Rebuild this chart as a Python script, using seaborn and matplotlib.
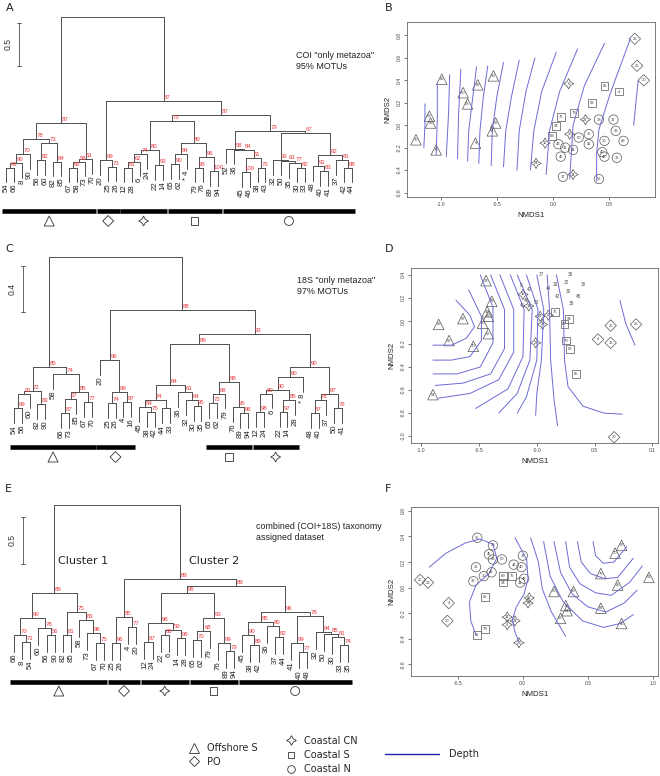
import numpy as np
import pandas as pd
import seaborn as sns
import matplotlib
matplotlib.use("Agg")
import matplotlib.pyplot as plt
from matplotlib.lines import Line2D

W, H = 660, 776

# ---------------- dendrogram data: (height, bootstrap, left, right) ----------------
# panel A: COI "only metazoa", 95% MOTUs
coi_off = (0.64, 87,
           (0.45, 78, (0.28, 70, (0.17, 90, (0.12, 91, "54", "66"), "8"), "90"),
            (0.41, 73, (0.21, 82, "56", "60"), (0.19, 84, "82", "85"))),
           (0.22, 63, (0.19, 58, (0.12, 66, "67", "58"), "73"), "70"))
coi_po = (0.21, 99, "20", (0.13, 73, "25", "26"))
coi_cn = (0.33, 80, (0.28, 74, (0.19, 62, (0.12, 81, "12", "28"), "6"), "24"),
          (0.15, 93, "22", "14"))
coi_cs = (0.41, 80, (0.28, 84, (0.16, 90, "65", "62"), "* 4"),
          (0.24, 96, (0.12, 95, "79", "76"), (0.08, 100, "89", "94")))
coi_n1 = (0.34, 58, "52", (0.33, 84, "36", (0.23, 61, (0.07, 100, "45", "46"),
                                             (0.12, 73, "38", "43"))))
coi_n2 = (0.52, 67,
          (0.21, 93, "32", (0.20, 63, "50", (0.17, 77, "35", (0.12, 82, "30", "33")))),
          (0.27, 82, (0.14, 91, "48", (0.08, 83, "40", "41")),
           (0.21, 81, "37", (0.12, 88, "42", "44"))))
coi_tree = (1.87, "", coi_off,
            (0.90, 87, coi_po, (0.73, 87, (0.66, 75, coi_cn, coi_cs), (0.55, 79, coi_n1, coi_n2))))
coi_groups = [("54", "70", "Offshore S"), ("20", "26", "PO"), ("12", "14", "Coastal CN"),
              ("65", "94", "Coastal S"), ("52", "44", "Coastal N")]

# panel C: 18S "only metazoa", 97% MOTUs
s18_off = (0.46, 85,
           (0.25, 72, (0.23, 81, (0.10, 99, "54", "56"), "60"), (0.14, 83, "82", "90")),
           (0.40, 74, "58", (0.24, 85, (0.18, 67, (0.06, 87, "66", "73"), "85"),
                             (0.16, 77, "67", "70"))))
s18_po = (0.52, 96, "20", (0.24, 99, (0.15, 74, "25", "26"), (0.16, 87, "4", "16")))
s18_mid = (0.30, 84,
           (0.17, 74, (0.11, 84, "45", (0.07, 75, "38", "42")), (0.10, "", "44", "33")),
           (0.24, 63, "36", (0.17, 64, "32", (0.12, 95, "30", "35"))))
s18_cs = (0.33, 88, (0.23, 68, (0.15, 72, "65", "62"), "79"),
          (0.11, 95, "76", (0.06, 96, "89", "94")))
s18_cn = (0.37, 90, (0.26, 90, (0.23, 80, (0.07, 98, "12", "24"), "6"),
                     (0.17, 85, (0.07, 97, "22", "14"), "28")), "* 8")
s18_last = (0.23, 87, (0.17, 78, (0.06, 87, "48", "40"), "37"), (0.10, 76, "50", "41"))
s18_tree = (1.42, "", s18_off,
            (0.96, 88, s18_po, (0.75, 93, (0.66, 89, s18_mid, s18_cs), (0.46, 90, s18_cn, s18_last))))
s18_groups = [("54", "70", "Offshore S"), ("20", "16", "PO"),
              ("65", "94", "Coastal S"), ("12", "28", "Coastal CN")]

# panel E: combined (COI+18S) taxonomy assigned dataset
cmb_c1 = (0.71, 89,
          (0.45, 90, (0.27, 70, "66", (0.19, 71, "8", "54")), (0.34, 78, "60", (0.27, 56, "56", "90"))),
          (0.51, 75, (0.27, 81, "82", "85"), (0.43, 83, "58", (0.29, 96, "73", (0.18, 75, "67", "70")))))
cmb_po = (0.46, 85, (0.18, 96, "25", "26"), (0.35, 77, "4", "20"))
cmb_cn = (0.39, 96, (0.19, 87, "12", "24"), (0.32, 59, (0.27, 80, "22", "6"), (0.23, 99, "14", "28")))
cmb_cs = (0.45, 93, (0.31, 68, (0.21, 70, "65", "62"), "79"), (0.18, 99, "76", (0.10, 79, "89", "94")))
cmb_n = (0.51, 96,
         (0.40, 85, (0.27, 90, "45", (0.16, 89, "38", "42")), (0.36, 80, "36", (0.24, 82, "37", "44"))),
         (0.47, 78, (0.18, 99, "41", (0.09, 77, "40", "48")),
          (0.30, 94, "32", (0.28, 85, "50", (0.24, 81, "30", (0.16, 74, "33", "35"))))))
cmb_tree = (1.65, "", cmb_c1,
            (0.86, 89, cmb_po, (0.79, 89, (0.71, 95, cmb_cn, cmb_cs), cmb_n)))
cmb_groups = [("66", "70", "Offshore S"), ("25", "20", "PO"), ("12", "28", "Coastal CN"),
              ("65", "94", "Coastal S"), ("45", "35", "Coastal N")]

# ---------------- NMDS data ----------------
b_lab = ["70", "56", "66", "73", "85", "60", "82", "58", "8", "90", "67", "54",
         "25", "26", "20",
         "12", "28", "14", "6", "22", "24",
         "76", "94", "89", "79", "62", "65", "4",
         "38", "32", "33", "35", "50", "30", "43", "48", "41", "44", "42", "45", "40", "46", "36", "37", "52"]
b_x = [-1.22, -1.10, -1.09, -1.04, -0.99, -0.80, -0.67, -0.76, -0.69, -0.53, -0.51, -0.54,
       0.73, 0.75, 0.81,
       -0.07, 0.15, 0.18, 0.14, 0.29, -0.15,
       0.07, 0.03, -0.01, 0.19, 0.35, 0.46, 0.59,
       0.41, 0.54, 0.56, 0.32, 0.23, 0.46, 0.63, 0.05, 0.11, 0.18, 0.32, 0.07, 0.44, 0.46, 0.57, 0.09, 0.41]
b_y = [-0.13, 0.08, 0.02, -0.22, 0.41, 0.29, 0.36, 0.19, -0.16, 0.44, 0.02, -0.05,
       0.77, 0.53, 0.40,
       -0.16, -0.08, -0.44, 0.37, 0.05, -0.34,
       0.07, -0.01, -0.10, 0.11, 0.20, 0.35, 0.30,
       0.05, 0.05, -0.05, -0.08, -0.11, -0.14, -0.14, -0.17, -0.20, -0.22, -0.17, -0.28, -0.24, -0.28, -0.29, -0.46, -0.48]
b_grp = ["Offshore S"] * 12 + ["PO"] * 3 + ["Coastal CN"] * 6 + ["Coastal S"] * 7 + ["Coastal N"] * 17
b_depth = [
    [(-1.14, 0.19), (-1.14, 0.0), (-1.15, -0.20)],
    [(-1.03, 0.37), (-1.03, 0.05), (-1.04, -0.26)],
    [(-0.92, 0.45), (-0.93, 0.10), (-0.95, -0.28)],
    [(-0.82, 0.50), (-0.84, 0.10), (-0.85, -0.30)],
    [(-0.68, 0.52), (-0.72, 0.20), (-0.75, -0.05), (-0.76, -0.32)],
    [(-0.58, 0.53), (-0.62, 0.25), (-0.65, -0.05), (-0.66, -0.34)],
    [(-0.44, 0.56), (-0.50, 0.25), (-0.54, -0.05), (-0.55, -0.36)],
    [(-0.30, 0.58), (-0.37, 0.25), (-0.42, -0.05), (-0.44, -0.37)],
    [(-0.16, 0.60), (-0.24, 0.30), (-0.30, -0.05), (-0.32, -0.40)],
    [(0.03, 0.65), (-0.10, 0.30), (-0.17, -0.05), (-0.20, -0.40)],
    [(0.22, 0.68), (0.06, 0.30), (-0.03, -0.05), (-0.06, -0.44)],
    [(0.46, 0.73), (0.28, 0.35), (0.18, 0.0), (0.15, -0.48)],
    [(0.69, 0.77), (0.51, 0.28), (0.41, -0.04), (0.39, -0.25), (0.39, -0.50)],
    [(0.76, 0.40), (0.74, 0.20), (0.72, 0.0)],
]

d_lab = ["85", "67", "66", "70", "54", "58", "73", "90", "82", "60", "56",
         "4", "26", "16", "25", "20",
         "89", "94", "76", "79", "62", "65",
         "12", "14", "28", "24", "6", "22"]
d_x = [-0.85, -0.64, -0.76, -0.55, -0.90, -0.44, -0.39, -0.43, -0.42, -0.47, -0.42,
       0.53, 0.64, 0.64, 0.86, 0.67,
       0.24, 0.28, 0.16, 0.25, 0.29, 0.34,
       -0.12, -0.07, 0.05, 0.03, 0.10, -0.01]
d_y = [-0.03, 0.02, -0.17, -0.22, -0.64, 0.35, 0.17, 0.08, 0.04, -0.02, -0.11,
       -0.16, -0.04, -0.19, -0.03, -1.01,
       -0.03, 0.02, 0.08, -0.17, -0.24, -0.46,
       0.23, 0.13, -0.03, 0.04, 0.05, -0.19]
d_grp = ["Offshore S"] * 11 + ["PO"] * 5 + ["Coastal S"] * 6 + ["Coastal CN"] * 6
# samples without a group symbol in panel D
dt_lab = ["37", "35", "33", "32", "36", "8", "40", "44", "30", "42", "45", "38", "48", "41", "50"]
dt_x = [0.04, 0.29, 0.16, 0.26, 0.40, -0.14, -0.06, 0.10, 0.27, 0.18, 0.36, 0.30, -0.09, -0.12, 0.0]
dt_y = [0.40, 0.40, 0.32, 0.33, 0.32, 0.31, 0.27, 0.28, 0.26, 0.21, 0.21, 0.15, 0.18, 0.13, 0.16]
d_depth = [
    [(-0.70, 0.18), (-0.58, 0.05), (-0.54, -0.05), (-0.61, -0.15), (-0.74, -0.21), (-0.90, -0.21)],
    [(-0.59, 0.27), (-0.48, 0.04), (-0.48, -0.17), (-0.58, -0.31), (-0.74, -0.34), (-0.90, -0.34)],
    [(-0.49, 0.40), (-0.38, 0.12), (-0.38, -0.19), (-0.49, -0.40), (-0.69, -0.46), (-0.90, -0.46)],
    [(-0.40, 0.40), (-0.28, 0.10), (-0.28, -0.24), (-0.40, -0.46), (-0.64, -0.54), (-0.88, -0.56)],
    [(-0.32, 0.40), (-0.20, 0.10), (-0.20, -0.27), (-0.33, -0.51), (-0.58, -0.63), (-0.85, -0.67)],
    [(-0.23, 0.40), (-0.11, 0.10), (-0.12, -0.31), (-0.25, -0.59), (-0.53, -0.76)],
    [(-0.17, 0.40), (-0.04, 0.10), (-0.06, -0.34), (-0.17, -0.63), (-0.33, -0.80)],
    [(-0.09, 0.40), (0.01, 0.10), (0.0, -0.34), (-0.09, -0.66), (-0.17, -0.80)],
    [(0.0, 0.40), (0.06, 0.10), (0.04, -0.34), (0.0, -0.63), (-0.01, -0.82)],
    [(0.09, 0.40), (0.11, 0.10), (0.12, -0.34), (0.15, -0.69), (0.18, -0.91)],
    [(0.17, 0.40), (0.23, 0.10), (0.24, -0.34), (0.27, -0.57), (0.40, -0.74), (0.58, -0.80), (0.74, -0.81)],
    [(0.72, 0.18), (0.77, -0.02), (0.85, -0.21)],
]

f_lab = ["67", "70", "73", "85", "58", "60", "90", "8", "54", "82", "56", "66",
         "25", "26", "4", "20",
         "12", "22", "14", "6", "24", "28",
         "89", "76", "94", "62", "79", "65",
         "35", "38", "45", "33", "50", "37", "44", "40", "36", "42", "30", "32", "41", "48"]
f_x = [0.76, 0.71, 0.60, 0.73, 0.97, 0.24, 0.39, 0.33, 0.34, 0.60, 0.29, 0.76,
       -0.79, -0.73, -0.57, -0.58,
       0.05, 0.04, -0.12, -0.12, -0.06, -0.03,
       -0.15, -0.08, -0.15, -0.29, -0.29, -0.35,
       -0.35, -0.23, -0.26, -0.23, -0.16, 0.0, -0.07, -0.01, -0.36, -0.24, -0.30, -0.38, -0.02, 0.01]
f_y = [0.33, 0.27, 0.11, 0.02, 0.08, -0.03, -0.03, -0.14, -0.18, -0.16, -0.24, -0.28,
       0.06, 0.04, -0.12, -0.26,
       -0.08, -0.12, -0.23, -0.29, -0.26, -0.43,
       0.09, 0.09, 0.04, -0.07, -0.32, -0.37,
       0.39, 0.33, 0.26, 0.22, 0.22, 0.25, 0.18, 0.16, 0.16, 0.12, 0.09, 0.05, 0.04, 0.07]
f_grp = ["Offshore S"] * 12 + ["PO"] * 4 + ["Coastal CN"] * 6 + ["Coastal S"] * 6 + ["Coastal N"] * 14
f_depth = [
    [(-0.72, 0.16), (-0.59, 0.27), (-0.44, 0.35), (-0.33, 0.38), (-0.23, 0.34), (-0.20, 0.23),
     (-0.26, 0.11), (-0.36, 0.02), (-0.41, -0.11), (-0.40, -0.26), (-0.36, -0.37)],
    [(-0.06, 0.39), (0.03, 0.22), (0.04, 0.07), (0.01, -0.05), (-0.05, -0.15), (-0.08, -0.25),
     (-0.06, -0.35), (-0.03, -0.42)],
    [(0.06, 0.39), (0.12, 0.20), (0.15, -0.01), (0.22, -0.19), (0.33, -0.38)],
    [(0.16, 0.36), (0.21, 0.09), (0.31, -0.11), (0.46, -0.26), (0.62, -0.31), (0.75, -0.28), (0.85, -0.21)],
    [(0.24, 0.36), (0.29, 0.12), (0.38, -0.05), (0.50, -0.15), (0.64, -0.19), (0.78, -0.12), (0.88, -0.02)],
    [(0.33, 0.36), (0.36, 0.16), (0.44, 0.03), (0.56, -0.04), (0.68, -0.06), (0.82, 0.04), (0.92, 0.17)],
    [(0.42, 0.36), (0.45, 0.20), (0.52, 0.11), (0.63, 0.07), (0.73, 0.08), (0.85, 0.23)],
    [(0.54, 0.36), (0.56, 0.25), (0.62, 0.19), (0.70, 0.20), (0.80, 0.32)],
]

MARK = {"Offshore S": "^", "PO": "D", "Coastal CN": (4, 1, 0), "Coastal S": "s", "Coastal N": "o"}
MSIZE = {"Offshore S": 58, "PO": 34, "Coastal CN": 55, "Coastal S": 32, "Coastal N": 46}

sns.set_theme(style="white")
plt.rcParams["font.family"] = ["Liberation Sans", "DejaVu Sans"]

fig = plt.figure(figsize=(W / 100, H / 100), dpi=100)
RED = "#e8393f"
TREE = "#4f4f4f"
CONT = "#6b6bd6"


def px_axes(x0, y0, x1, y1):
    return fig.add_axes([x0 / W, 1 - y1 / H, (x1 - x0) / W, (y1 - y0) / H])


def dendro_panel(box, tree, groups, leaf0, step, base, unit, hang,
                 bar_y, sym_y, scale, scale_x, scale_bottom, label_x):
    ax = px_axes(*box)
    order = []

    def walk(node):
        h, bs, left, right = node
        xs = []
        for child in (left, right):
            if isinstance(child, str):
                i = len(order)
                order.append(child)
                ax.plot([i, i], [h - hang, h], color=TREE, lw=0.7)
                ax.text(i, h - hang - 1.5 / unit, child, rotation=90, ha="center", va="top",
                        fontsize=5.6, color="#222222")
                xs.append(i)
            else:
                xc = walk(child)
                ax.plot([xc, xc], [child[0], h], color=TREE, lw=0.7)
                xs.append(xc)
        ax.plot(xs, [h, h], color=TREE, lw=0.7)
        xm = np.mean(xs)
        if bs != "":
            ax.text(xm + 0.5, h + 1.0 / unit, str(bs), color=RED, fontsize=4.3,
                    ha="center", va="bottom")
        return xm

    walk(tree)
    pos = {lab: i for i, lab in enumerate(order)}
    bh = (base - bar_y) / unit
    sh = (base - sym_y) / unit
    for first, last, g in groups:
        i0, i1 = pos[first], pos[last]
        ax.plot([i0 - 0.45, i1 + 0.45], [bh, bh], color="black", lw=3.3, solid_capstyle="butt")
        ax.scatter([(i0 + i1) / 2], [sh], marker=MARK[g], s=MSIZE[g] * 0.9,
                   facecolor="none", edgecolor="#333333", linewidths=0.6)
    # scale bar
    sx = (scale_x - leaf0) / step
    s0 = (base - scale_bottom) / unit
    ax.plot([sx, sx], [s0, s0 + scale], color=TREE, lw=0.6)
    for yy in (s0, s0 + scale):
        ax.plot([sx - 0.3, sx + 0.3], [yy, yy], color=TREE, lw=0.6)
    ax.text((label_x - leaf0) / step, s0 + scale / 2, str(scale), rotation=90,
            ha="center", va="center", fontsize=6.2, color="#333333")
    ax.set_xlim((box[0] - leaf0) / step, (box[2] - leaf0) / step)
    ax.set_ylim((base - box[3]) / unit, (base - box[1]) / unit)
    ax.axis("off")
    return ax


def nmds_panel(box, lab, xs, ys, grp, lines, xlim, ylim, xticks, xticklabels, yticks):
    ax = px_axes(*box)
    for ln in lines:
        arr = np.array(ln)
        ax.plot(arr[:, 0], arr[:, 1], color=CONT, lw=0.7)
    df = pd.DataFrame({"x": xs, "y": ys, "grp": grp, "lab": lab})
    for g, sub in df.groupby("grp"):
        sns.scatterplot(data=sub, x="x", y="y", marker=MARK[g], s=MSIZE[g],
                        facecolor="none", edgecolor="#555555", linewidth=0.5,
                        ax=ax, legend=False)
    for _, r in df.iterrows():
        ax.text(r["x"], r["y"], r["lab"], fontsize=3.0, ha="center", va="center", color="#444444")
    ax.set_xlim(*xlim)
    ax.set_ylim(*ylim)
    ax.set_xticks(xticks)
    ax.set_xticklabels(xticklabels)
    ax.set_yticks(yticks)
    ax.set_yticklabels([f"{v:.1f}" for v in yticks], rotation=90, va="center")
    ax.tick_params(length=2, width=0.5, labelsize=3.6, colors="#444444", pad=1.5,
                   bottom=True, left=True)
    for sp in ax.spines.values():
        sp.set_color("#666666")
        sp.set_linewidth(0.6)
    ax.set_xlabel("NMDS1", fontsize=5.6, labelpad=4, color="#222222")
    ax.set_ylabel("NMDS2", fontsize=5.6, labelpad=4, color="#222222")
    return ax


# ---------------- dendrograms ----------------
dendro_panel((0, 0, 375, 235), coi_tree, coi_groups, leaf0=6, step=7.86, base=178, unit=86,
             hang=0.17, bar_y=211, sym_y=221, scale=0.5, scale_x=19, scale_bottom=66, label_x=8)
dendro_panel((0, 245, 375, 470), s18_tree, s18_groups, leaf0=14, step=7.81, base=420, unit=115,
             hang=0.13, bar_y=447, sym_y=457, scale=0.4, scale_x=23, scale_bottom=312, label_x=12)
axE = dendro_panel((0, 490, 375, 705), cmb_tree, cmb_groups, leaf0=14, step=8.15, base=660, unit=94,
                   hang=0.18, bar_y=682, sym_y=691, scale=0.5, scale_x=23, scale_bottom=564, label_x=12)
axE.text(5.4, 1.05, "Cluster 1", fontsize=8, family="DejaVu Sans", va="center", color="#222222")
axE.text(21.5, 1.05, "Cluster 2", fontsize=8, family="DejaVu Sans", va="center", color="#222222")

fig.text(296 / W, 1 - 61 / H, "COI \"only metazoa\"\n95% MOTUs", fontsize=6.4, va="center",
         linespacing=1.15, color="#222222")
fig.text(297 / W, 1 - 286 / H, "18S \"only metazoa\"\n97% MOTUs", fontsize=6.4, va="center",
         linespacing=1.15, color="#222222")
fig.text(256 / W, 1 - 532 / H, "combined (COI+18S) taxonomy\nassigned dataset", fontsize=6.4,
         va="center", linespacing=1.15, color="#222222")

# ---------------- NMDS ----------------
nmds_panel((407, 22, 655, 197), b_lab, b_x, b_y, b_grp, b_depth, (-1.30, 0.91), (-0.64, 0.92),
           [-1.0, -0.5, 0.0, 0.5], ["-1.0", "-0.5", "0.0", "0.5"],
           [-0.6, -0.4, -0.2, 0.0, 0.2, 0.4, 0.6, 0.8])
axD = nmds_panel((411, 268, 658, 443), d_lab, d_x, d_y, d_grp, d_depth, (-1.09, 1.05), (-1.06, 0.46),
                 [-1.0, -0.5, 0.0, 0.5, 1.0], ["-1.0", "-0.5", "-0.0", "0.5", "0.1"],
                 [-1.0, -0.8, -0.6, -0.4, -0.2, 0.0, 0.2, 0.4])
for t, x, y in zip(dt_lab, dt_x, dt_y):
    axD.text(x, y, t, fontsize=3.4, ha="center", va="center", color="#555555")
nmds_panel((411, 507, 658, 676), f_lab, f_x, f_y, f_grp, f_depth, (-0.86, 1.04), (-0.69, 0.63),
           [-0.5, 0.0, 0.5, 1.0], ["-0.5", "0.0", "0.5", "1.0"],
           [-0.6, -0.4, -0.2, 0.0, 0.2, 0.4, 0.6])

# panel letters
for letter, x, y in [("A", 6, 8), ("B", 385, 8), ("C", 5, 249), ("D", 385, 249),
                     ("E", 5, 489), ("F", 385, 489)]:
    fig.text(x / W, 1 - y / H, letter, fontsize=8, family="DejaVu Sans", va="center", color="#222222")


# ---------------- legend ----------------
LEG_MS = {"Offshore S": 6.5, "PO": 5.0, "Coastal CN": 7.0, "Coastal S": 4.5, "Coastal N": 5.5}


def mk(g):
    return Line2D([], [], ls="none", marker=MARK[g], markersize=LEG_MS[g],
                  markerfacecolor="none", markeredgecolor="#333333", markeredgewidth=0.6)


leg_kw = dict(frameon=False, loc="center left", borderpad=0, handlelength=1.0,
              handletextpad=0.9, prop={"family": "DejaVu Sans", "size": 7})
fig.legend([mk("Offshore S"), mk("PO")], ["Offshore S", "PO"],
           bbox_to_anchor=(184 / W, 1 - 755 / H), labelspacing=0.35, **leg_kw)
fig.legend([mk("Coastal CN"), mk("Coastal S"), mk("Coastal N")],
           ["Coastal CN", "Coastal S", "Coastal N"],
           bbox_to_anchor=(281 / W, 1 - 755 / H), labelspacing=0.45, **leg_kw)
fig.legend([Line2D([], [], color="#1f1fa8", lw=1.0)], ["Depth"],
           bbox_to_anchor=(380 / W, 1 - 754 / H), frameon=False, loc="center left",
           borderpad=0, handlelength=5.6, handletextpad=1.0,
           prop={"family": "DejaVu Sans", "size": 7})

fig.savefig("out.png", dpi=100)
